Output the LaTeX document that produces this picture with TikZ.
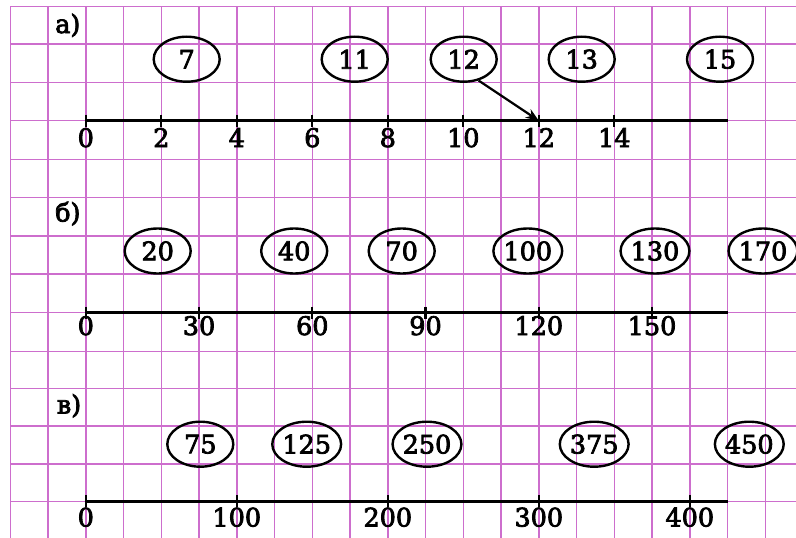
\documentclass[tikz,border=0pt]{standalone}
\usepackage{fontspec}
\setmainfont{DejaVu Serif}[BoldFont={DejaVu Serif},BoldFeatures={FakeBold=3}]
\usetikzlibrary{shapes.geometric,arrows.meta}
\definecolor{gridc}{RGB}{205,110,205}
\begin{document}
\begin{tikzpicture}[x=1pt,y=-1pt,
  gridline/.style={draw=gridc,line width=1.4pt},
  numline/.style={line width=2.8pt,black},
  tickmark/.style={line width=2.2pt,black},
  oval/.style={ellipse,draw,line width=2.4pt,minimum width=66pt,minimum height=45pt,inner sep=0pt,font=\fontsize{25.5}{30}\selectfont\bfseries},
  ticklabel/.style={anchor=base,inner sep=0pt,font=\fontsize{25.5}{30}\selectfont\bfseries},
  partlabel/.style={anchor=base west,inner sep=0pt,font=\fontsize{25.5}{30}\selectfont\bfseries},
  ptr/.style={-{Stealth[length=13pt,width=10pt]},line width=2.2pt}]
\useasboundingbox (0,0) rectangle (796,538);
\fill[white] (0,0) rectangle (796,538);
% grid
\foreach \yy in {6.7,44,82.7,120.7,159.3,197.3,236,274,312.5,351.3,388.7,426,464,501.3}
  \draw[gridline] (10,\yy) -- (796,\yy);
\foreach \k in {0,...,20}
  \draw[gridline] ({10.3+37.75*\k},6.7) -- ({10.3+37.75*\k},538);
% ---------- part a
\node[partlabel] (pa) at (55,33) {а)};
\foreach \v/\c in {7/186.7,11/354.7,12/463.7,13/581.7,15/720}
  \node[oval] (ea\v) at (\c,59.2) {\v};
\coordinate (las) at ({10.3+37.75*2},120.7);
\coordinate (lae) at ({10.3+37.75*19},120.7);
\draw[numline] (las) -- (lae);
\foreach \v in {0,2,...,14}{
  \coordinate (ta\v) at ({10.3+37.75*(2+\v)},120.7);
  \draw[tickmark] (ta\v) ++(0,-6) -- ++(0,12);
  \node[ticklabel] (na\v) at ({10.3+37.75*(2+\v)},147) {\v};
}
\draw[ptr] (ea12.-55) -- (ta12);
% ---------- part b
\node[partlabel] (pb) at (55,221.5) {б)};
\foreach \v/\c in {20/157.7,40/294.2,70/401.7,100/527.8,130/655,170/763}
  \node[oval] (eb\v) at (\c,251) {\v};
\coordinate (lbs) at ({10.3+37.75*2},312.5);
\coordinate (lbe) at ({10.3+37.75*19},312.5);
\draw[numline] (lbs) -- (lbe);
\foreach \v in {0,30,...,150}{
  \coordinate (tb\v) at ({10.3+37.75*(2+\v/10)},312.5);
  \draw[tickmark] (tb\v) ++(0,-6) -- ++(0,12);
  \node[ticklabel] (nb\v) at ({10.3+37.75*(2+\v/10)},335) {\v};
}
% ---------- part c
\node[partlabel] (pc) at (56.7,413.5) {в)};
\foreach \v/\c in {75/200.3,125/306.7,250/427,375/594.2,450/749.3}
  \node[oval] (ec\v) at (\c,444.2) {\v};
\coordinate (lcs) at ({10.3+37.75*2},501.3);
\coordinate (lce) at ({10.3+37.75*19},501.3);
\draw[numline] (lcs) -- (lce);
\foreach \v in {0,100,...,400}{
  \coordinate (tc\v) at ({10.3+37.75*(2+\v/25)},501.3);
  \draw[tickmark] (tc\v) ++(0,-6) -- ++(0,12);
  \node[ticklabel] (nc\v) at ({10.3+37.75*(2+\v/25)},526.5) {\v};
}
\end{tikzpicture}
\end{document}
